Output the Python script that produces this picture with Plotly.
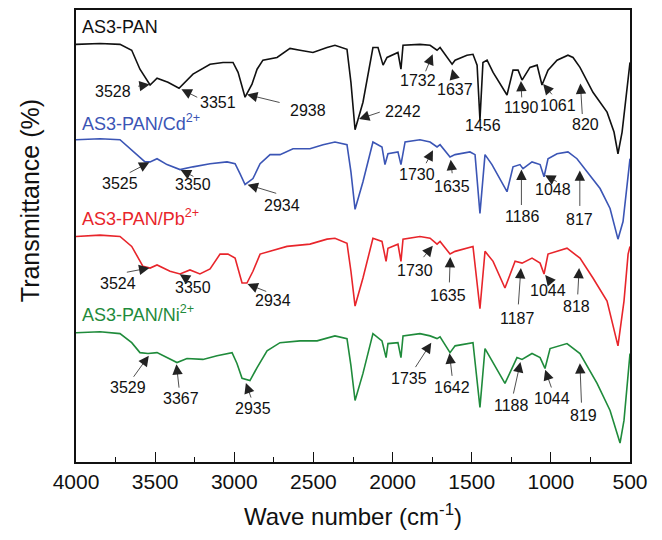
import numpy as np
import plotly.graph_objects as go

# ---------------- data ----------------
# wavenumber (cm-1) and transmittance (%, offset curves)
wn_pan = [4000, 3848, 3722, 3648, 3596, 3532, 3488, 3419, 3349, 3261, 3153, 3071, 3008, 2976,
          2932, 2888, 2856, 2819, 2730, 2648, 2585, 2503, 2414, 2364, 2288, 2263, 2237, 2187,
          2124, 2092, 2060, 2035, 1966, 1947, 1934, 1827, 1763, 1719, 1700, 1624, 1605, 1530,
          1492, 1466, 1448, 1429, 1403, 1365, 1277, 1239, 1207, 1182, 1132, 1087, 1056, 1018,
          961, 892, 860, 816, 734, 645, 601, 576, 550, 500]
t_pan = [92.4, 92.6, 92.4, 91.1, 86.9, 83.4, 84.9, 84.0, 82.7, 85.8, 88.0, 88.4, 88.4, 86.2,
         80.7, 83.6, 86.9, 88.9, 89.5, 91.5, 91.1, 90.6, 91.7, 92.2, 91.3, 84.0, 73.5, 79.6,
         91.7, 91.7, 87.8, 89.5, 90.6, 86.9, 92.2, 92.4, 92.2, 91.1, 91.7, 88.0, 88.9, 90.0,
         90.2, 87.8, 75.7, 88.4, 88.9, 86.2, 81.2, 86.7, 86.7, 84.5, 87.3, 87.8, 83.4, 86.7,
         88.9, 90.0, 89.5, 87.3, 81.8, 77.4, 73.0, 68.2, 73.0, 88.4]

wn_cd = [4000, 3848, 3722, 3648, 3564, 3532, 3488, 3425, 3343, 3261, 3153, 3046, 2995, 2964,
         2932, 2882, 2837, 2774, 2711, 2629, 2522, 2439, 2364, 2288, 2263, 2237, 2187, 2124,
         2067, 2048, 2029, 1966, 1947, 1921, 1827, 1763, 1719, 1700, 1637, 1605, 1511, 1479,
         1448, 1416, 1372, 1277, 1239, 1195, 1176, 1119, 1068, 1043, 1018, 961, 892, 835,
         772, 689, 626, 576, 544, 500]
t_cd = [71.3, 71.5, 71.3, 69.1, 66.4, 66.4, 67.1, 65.8, 64.7, 65.3, 66.0, 66.4, 66.0, 63.8,
        61.4, 62.7, 66.0, 68.0, 68.0, 69.3, 69.3, 70.2, 70.8, 70.2, 64.2, 55.9, 62.0, 70.8,
        69.7, 65.8, 68.2, 68.6, 65.8, 70.8, 71.3, 70.8, 69.7, 70.2, 67.5, 68.0, 68.6, 68.0,
        55.0, 68.0, 65.8, 59.8, 65.3, 65.8, 64.9, 66.4, 65.8, 63.1, 67.1, 68.2, 68.6, 67.1,
        64.2, 60.5, 56.1, 49.3, 53.2, 67.1]

wn_pb = [4000, 3848, 3722, 3648, 3577, 3532, 3488, 3406, 3343, 3280, 3217, 3153, 3090, 3040,
         2995, 2951, 2920, 2882, 2837, 2774, 2667, 2522, 2414, 2364, 2288, 2263, 2237, 2187,
         2124, 2067, 2041, 2029, 1966, 1947, 1934, 1827, 1763, 1719, 1700, 1637, 1605, 1492,
         1448, 1416, 1365, 1290, 1226, 1182, 1119, 1068, 1043, 1018, 898, 816, 734, 645,
         576, 538, 512, 500]
t_pb = [49.9, 50.2, 49.9, 47.7, 43.3, 42.9, 43.6, 42.2, 41.6, 42.5, 41.6, 42.7, 46.0, 46.0,
        45.1, 39.6, 39.6, 42.2, 46.0, 46.6, 47.7, 48.2, 49.3, 49.5, 48.4, 42.2, 34.5, 40.7,
        49.5, 48.8, 44.4, 47.3, 48.2, 44.4, 49.3, 49.9, 49.5, 48.2, 48.8, 46.0, 46.6, 47.7,
        33.9, 46.6, 44.4, 38.5, 44.4, 44.0, 45.1, 44.0, 41.6, 46.0, 47.3, 45.1, 40.7, 35.6,
        25.7, 35.6, 46.0, 47.7]

wn_ni = [4000, 3848, 3722, 3648, 3596, 3545, 3488, 3425, 3362, 3299, 3198, 3109, 3014, 2983,
         2951, 2901, 2856, 2793, 2711, 2585, 2477, 2364, 2288, 2263, 2237, 2187, 2124, 2067,
         2041, 2029, 1966, 1947, 1934, 1827, 1763, 1719, 1700, 1637, 1605, 1492, 1448, 1416,
         1372, 1290, 1214, 1182, 1119, 1068, 1037, 1005, 898, 816, 708, 626, 563, 538, 500]
t_ni = [28.6, 28.8, 28.4, 26.4, 24.2, 24.0, 24.2, 23.1, 22.0, 22.9, 22.7, 23.5, 24.2, 21.8,
        18.5, 18.0, 20.9, 24.6, 26.4, 26.8, 26.8, 27.9, 27.3, 21.3, 13.6, 19.6, 28.4, 26.8,
        23.1, 26.2, 26.4, 23.1, 27.9, 28.4, 27.9, 27.3, 27.7, 24.2, 25.7, 26.4, 12.1, 25.1,
        22.4, 17.4, 23.1, 22.7, 24.0, 23.1, 20.7, 25.1, 26.2, 24.0, 17.4, 11.4, 4.2, 9.2, 24.0]

series_names = ["AS3-PAN", "AS3-PAN/Cd<sup>2+</sup>", "AS3-PAN/Pb<sup>2+</sup>", "AS3-PAN/Ni<sup>2+</sup>"]
series_colors = ["#111111", "#3b55b5", "#e8252b", "#1f8b3b"]

# peak labels per series (cm-1)
peaks_pan = [3528, 3351, 2938, 2242, 1732, 1637, 1456, 1190, 1061, 820]
peaks_cd = [3525, 3350, 2934, 1730, 1635, 1186, 1048, 817]
peaks_pb = [3524, 3350, 2934, 1730, 1635, 1187, 1044, 818]
peaks_ni = [3529, 3367, 2935, 1735, 1642, 1188, 1044, 819]

# annotation layout: (label dx, label dy, tail dx, tail dy, standoff) in pixels; None tail -> no arrow
ann_pan = [(-38, 7, -14, 2, 1), (39, 14, 20, 10, 3), (64, 17, 37, 9, 3), (49, -9, 27, -9, 5),
           (-17, 32, -10, 24, 6), (5, 28, 5, 19, 8), (4, 30, None, None, 0), (1, 31, 1, 22, 4),
           (17, 24, 12, 14, 3), (6, 58, 3, 49, 17)]
ann_cd = [(-31, 22, -23, 12, 2), (14, 15, 16, 8, 2), (37, 22, 33, 10, 3), (-18, 29, -10, 19, 5),
          (2, 30, 2, 18, 3), (1, 50, 0, 40, 3), (10, 15, 15, 8, 2), (0, 57, 0, 45, 8)]
ann_pb = [(-33, 16, -26, 5, 2), (14, 14, 11, 7, 1), (28, 17, 23, 9, 3), (-20, 28, -13, 16, 4),
          (-2, 42, -1, 30, 3), (-4, 56, -3, 43, 5), (4, 17, 9, 11, 2), (-3, 49, -2, 38, 10)]
ann_ni = [(-23, 34, -18, 25, 3), (5, 36, 3, 27, 2), (8, 29, 7, 20, 4), (-26, 41, -20, 31, 6),
          (3, 36, 3, 26, 2), (-10, 46, -8, 36, 3), (8, 33, 8, 23, 4), (4, 62, 2, 51, 10)]

label_y_paper = [0.962, 0.751, 0.542, 0.328]

FONT = "Arial, Liberation Sans, Helvetica, sans-serif"

fig = go.Figure()
all_wn = [wn_pan, wn_cd, wn_pb, wn_ni]
all_t = [t_pan, t_cd, t_pb, t_ni]
all_peaks = [peaks_pan, peaks_cd, peaks_pb, peaks_ni]
all_ann = [ann_pan, ann_cd, ann_pb, ann_ni]

annotations = []
for i in range(4):
    fig.add_trace(go.Scatter(x=all_wn[i], y=all_t[i], mode="lines",
                             line=dict(color=series_colors[i], width=1.6),
                             name=series_names[i], showlegend=False, hoverinfo="skip"))
    w = np.array(all_wn[i][::-1], dtype=float)
    t = np.array(all_t[i][::-1], dtype=float)
    for pk, (ldx, ldy, tdx, tdy, so) in zip(all_peaks[i], all_ann[i]):
        ty = float(np.interp(pk, w, t))
        annotations.append(dict(x=pk, y=ty, xref="x", yref="y", text=str(pk), showarrow=False,
                                xshift=ldx, yshift=-ldy, font=dict(size=16, color="#111111", family=FONT)))
        if tdx is not None:
            annotations.append(dict(x=pk, y=ty, xref="x", yref="y", text="", showarrow=True,
                                    ax=tdx, ay=tdy, axref="pixel", ayref="pixel",
                                    arrowhead=2, arrowsize=2.6, arrowwidth=0.8,
                                    arrowcolor="#222222", standoff=so))
    annotations.append(dict(x=0.007, y=label_y_paper[i], xref="paper", yref="paper",
                            xanchor="left", yanchor="middle", text=series_names[i], showarrow=False,
                            font=dict(size=18, color=series_colors[i], family=FONT)))

# y-axis title (placed as rotated text, as in the original)
annotations.append(dict(x=-0.083, y=0.577, xref="paper", yref="paper", xanchor="center", yanchor="middle",
                        text="Transmittance (%)", textangle=-90, showarrow=False,
                        font=dict(size=25, family=FONT, color="#111111")))

fig.update_layout(
    width=662, height=540,
    margin=dict(l=76, r=32, t=8, b=78),
    paper_bgcolor="white", plot_bgcolor="white",
    font=dict(family=FONT, color="#111111"),
    annotations=annotations,
    xaxis=dict(range=[4000, 500], tickmode="linear", tick0=500, dtick=500,
               ticks="inside", ticklen=10, tickwidth=1.3, tickcolor="#111111",
               minor=dict(ticks="inside", ticklen=5, tickwidth=1.3, tickcolor="#111111", dtick=250),
               showline=True, linecolor="#111111", linewidth=1.8, mirror=True,
               showgrid=False, zeroline=False,
               tickfont=dict(size=21, family=FONT, color="#111111"),
               title=dict(text="Wave number (cm<sup>-1</sup>)", font=dict(size=24, family=FONT, color="#111111"),
                          standoff=16)),
    yaxis=dict(range=[0, 100], showticklabels=False, ticks="",
               showline=True, linecolor="#111111", linewidth=1.8, mirror=True,
               showgrid=False, zeroline=False),
)

fig.write_html("out.html")
